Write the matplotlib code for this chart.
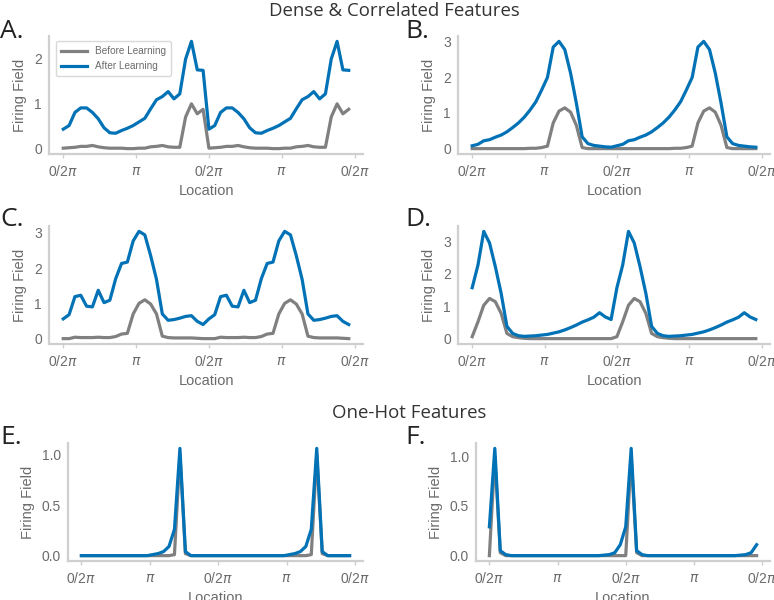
import matplotlib
matplotlib.use("Agg")
import numpy as np
import matplotlib.pyplot as plt

# one cycle (25 samples) of each field, the plot shows two cycles
before_a = [0.01, 0.02, 0.03, 0.05, 0.05, 0.07, 0.04, 0.02, 0.01, 0.01, 0.01, 0.0, 0.0,
            0.01, 0.01, 0.04, 0.05, 0.07, 0.04, 0.03, 0.03, 0.70, 0.99, 0.77, 0.87]
after_a = [0.43, 0.51, 0.80, 0.90, 0.90, 0.80, 0.66, 0.46, 0.35, 0.34, 0.40, 0.45, 0.51,
           0.59, 0.67, 0.88, 1.08, 1.15, 1.26, 1.10, 1.21, 1.98, 2.37, 1.74, 1.73]

before_b = [0.0, 0.0, 0.0, 0.0, 0.0, 0.0, 0.0, 0.0, 0.0, 0.0, 0.01, 0.01, 0.03,
            0.07, 0.72, 1.05, 1.14, 1.02, 0.65, 0.03, 0.0, 0.0, 0.0, 0.0, 0.0]
after_b = [0.08, 0.12, 0.22, 0.25, 0.32, 0.38, 0.47, 0.59, 0.72, 0.88, 1.08, 1.31, 1.64,
           1.99, 2.84, 3.0, 2.77, 2.11, 1.27, 0.33, 0.14, 0.09, 0.07, 0.05, 0.04]

before_c = [0.0, 0.0, 0.04, 0.03, 0.03, 0.03, 0.04, 0.03, 0.03, 0.06, 0.13, 0.15, 0.70,
            1.0, 1.10, 0.98, 0.70, 0.07, 0.03, 0.02, 0.02, 0.02, 0.02, 0.01, 0.0]
after_c = [0.56, 0.68, 1.19, 1.23, 0.92, 0.90, 1.37, 1.02, 1.09, 1.70, 2.13, 2.17, 2.77,
           3.04, 2.94, 2.35, 1.68, 0.70, 0.52, 0.54, 0.58, 0.63, 0.65, 0.49, 0.40]

before_d = [0.06, 0.52, 1.03, 1.24, 1.14, 0.78, 0.16, 0.06, 0.03, 0.01, 0.0, 0.0, 0.0,
            0.0, 0.0, 0.0, 0.0, 0.0, 0.0, 0.0, 0.0, 0.0, 0.0, 0.0, 0.0]
after_d = [1.57, 2.27, 3.31, 2.95, 2.22, 1.40, 0.38, 0.16, 0.09, 0.07, 0.08, 0.09, 0.11,
           0.13, 0.17, 0.21, 0.27, 0.34, 0.42, 0.51, 0.58, 0.66, 0.80, 0.67, 0.59]

before_e = [0.0, 0.0, 0.0, 0.0, 0.0, 0.0, 0.0, 0.0, 0.0, 0.0, 0.0, 0.0, 0.0,
            0.0, 0.0, 0.0, 0.0, 0.01, 1.0, 0.02, 0.0, 0.0, 0.0, 0.0, 0.0]
after_e = [0.0, 0.0, 0.0, 0.0, 0.0, 0.0, 0.0, 0.0, 0.0, 0.0, 0.0, 0.0, 0.0,
           0.01, 0.02, 0.04, 0.09, 0.26, 1.06, 0.04, 0.0, 0.0, 0.0, 0.0, 0.0]

before_f = [0.0, 1.0, 0.03, 0.0, 0.0, 0.0, 0.0, 0.0, 0.0, 0.0, 0.0, 0.0, 0.0,
            0.0, 0.0, 0.0, 0.0, 0.0, 0.0, 0.0, 0.0, 0.0, 0.0, 0.0, 0.0]
after_f = [0.29, 1.08, 0.05, 0.01, 0.0, 0.0, 0.0, 0.0, 0.0, 0.0, 0.0, 0.0, 0.0,
           0.0, 0.0, 0.0, 0.0, 0.0, 0.0, 0.0, 0.0, 0.005, 0.01, 0.03, 0.11]

panels = ["A.", "B.", "C.", "D.", "E.", "F."]
xtick_labels = [r"0/2$\pi$", r"$\pi$", r"0/2$\pi$", r"$\pi$", r"0/2$\pi$"]
yticks = [[0, 1, 2], [0, 1, 2, 3], [0, 1, 2, 3], [0, 1, 2, 3],
          [0.0, 0.5, 1.0], [0.0, 0.5, 1.0]]

plt.rcParams["font.family"] = ["Liberation Sans", "DejaVu Sans"]
grey_txt = "#6b6b6b"
spine_c = "#cfcfcf"
blue = "#0272b6"
gray = "#808080"

fig = plt.figure(figsize=(7.74, 6), dpi=100)

W, H = 774., 600.
boxes = [(49, 363, 36, 154), (458, 770, 36, 154),
         (49, 363, 226, 344), (458, 770, 226, 344),
         (68, 363, 443, 561), (476, 770, 443, 561)]
data = [(before_a, after_a), (before_b, after_b), (before_c, after_c),
        (before_d, after_d), (before_e, after_e), (before_f, after_f)]

x = np.linspace(0, 4 * np.pi, 50, endpoint=False)

for k, (l, r, t, b) in enumerate(boxes):
    ax = fig.add_axes([l / W, 1 - b / H, (r - l) / W, (b - t) / H])
    bef, aft = data[k]
    ax.plot(x, np.tile(bef, 2), color=gray, lw=2.3, label="Before Learning")
    ax.plot(x, np.tile(aft, 2), color=blue, lw=2.3, label="After Learning")
    ax.set_xticks(np.arange(5) * np.pi)
    ax.set_xticklabels(xtick_labels)
    ax.set_yticks(yticks[k])
    if k >= 4:
        ax.set_yticklabels(["%.1f" % v for v in yticks[k]])
    ax.set_xlabel("Location", fontsize=10.5, color=grey_txt, labelpad=4)
    ax.set_ylabel("Firing Field", fontsize=10.5, color=grey_txt, labelpad=5)
    ax.tick_params(axis="x", length=3, width=1, color=spine_c, labelsize=10,
                   labelcolor=grey_txt, pad=4)
    ax.tick_params(axis="y", length=0, labelsize=10, labelcolor=grey_txt, pad=5)
    for s in ["top", "right"]:
        ax.spines[s].set_visible(False)
    for s in ["left", "bottom"]:
        ax.spines[s].set_color(spine_c)
        ax.spines[s].set_linewidth(1.6)
    lx = 0 if k % 2 == 0 else 405
    ly = [31, 31, 220, 220, 438, 438][k]
    fig.text(lx / W, 1 - ly / H, panels[k], fontsize=19, color="#222222",
             family="Open Sans", va="center", ha="left")
    if k == 0:
        leg = ax.legend(loc="upper left", fontsize=7.2, frameon=True,
                        handlelength=2.6, borderpad=0.5, labelspacing=0.5,
                        bbox_to_anchor=(0.005, 1.0))
        leg.get_frame().set_edgecolor("#d0d0d0")
        leg.get_frame().set_linewidth(1.0)
        for txt in leg.get_texts():
            txt.set_color(grey_txt)

fig.text(394 / W, 1 - 11 / H, "Dense & Correlated Features", fontsize=13.4,
         family="Open Sans", color="#333333", ha="center", va="center")
fig.text(409 / W, 1 - 413 / H, "One-Hot Features", fontsize=13.4,
         family="Open Sans", color="#333333", ha="center", va="center")

fig.savefig("out.png", dpi=100)
